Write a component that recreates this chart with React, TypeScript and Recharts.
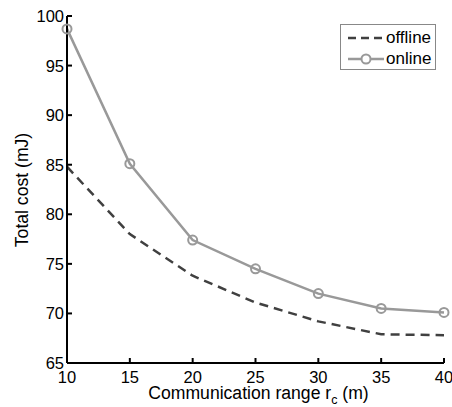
import React from "react";
import { LineChart, Line, XAxis, YAxis } from "recharts";

const ranges = [10, 15, 20, 25, 30, 35, 40];
const offlineCost = [84.8, 78.0, 73.8, 71.1, 69.2, 67.9, 67.8];
const onlineCost = [98.7, 85.1, 77.4, 74.5, 72.0, 70.5, 70.1];
const xTicks = [10, 15, 20, 25, 30, 35, 40];
const yTicks = [65, 70, 75, 80, 85, 90, 95, 100];
const seriesNames = ["offline", "online"];

const data = ranges.map((r, i) => ({ range: r, offline: offlineCost[i], online: onlineCost[i] }));

const FONT = "'Liberation Sans', Arial, Helvetica, sans-serif";
const FS = 16.5;
const LABEL_FS = 17.6;
const OFFLINE_COLOR = "#404040";
const ONLINE_COLOR = "#999999";

const BottomTick = (props: any) => {
  const { x, y, payload } = props;
  return (
    <g>
      <line x1={x} y1={y} x2={x} y2={y - 5} stroke="#000" strokeWidth={2} />
      <text x={x} y={y + 20} textAnchor="middle" fontSize={FS} fontFamily={FONT} fill="#000">
        {payload.value}
      </text>
    </g>
  );
};

const TopTick = (props: any) => {
  const { x, y } = props;
  return <line x1={x} y1={y} x2={x} y2={y + 5} stroke="#000" strokeWidth={2} />;
};

const LeftTick = (props: any) => {
  const { x, y, payload } = props;
  return (
    <g>
      <line x1={x} y1={y} x2={x + 5} y2={y} stroke="#000" strokeWidth={2} />
      <text x={x - 3} y={y + 6} textAnchor="end" fontSize={FS} fontFamily={FONT} fill="#000">
        {payload.value}
      </text>
    </g>
  );
};

const RightTick = (props: any) => {
  const { x, y } = props;
  return <line x1={x} y1={y} x2={x - 5} y2={y} stroke="#000" strokeWidth={2} />;
};

const XLabel = (props: any) => {
  const vb = props.viewBox || {};
  const cx = (vb.x ?? 67) + (vb.width ?? 377) / 2 + 3;
  return (
    <text x={cx} y={399} textAnchor="middle" fontSize={LABEL_FS} fontFamily={FONT} fill="#000">
      Communication range r
      <tspan dy={5} fontSize={12.5}>c</tspan>
      <tspan dy={-5}> (m)</tspan>
    </text>
  );
};

const YLabel = () => (
  <text
    x={22}
    y={190}
    transform="rotate(-90 22 190)"
    textAnchor="middle"
    dominantBaseline="central"
    fontSize={LABEL_FS}
    fontFamily={FONT}
    fill="#000"
  >
    Total cost (mJ)
  </text>
);

function LegendBox() {
  return (
    <div
      style={{
        position: "absolute",
        left: 340,
        top: 24,
        width: 94,
        height: 44,
        border: "1px solid #888",
        background: "#fff",
        fontFamily: FONT,
        fontSize: 17,
      }}
    >
      {seriesNames.map((name, i) => (
        <div key={name} style={{ position: "absolute", left: 0, top: i === 0 ? 2 : 23, height: 22, width: 94 }}>
          <svg width={44} height={22} style={{ position: "absolute", left: 4, top: 0 }}>
            {i === 0 ? (
              <line x1={3} y1={11} x2={39} y2={11} stroke={OFFLINE_COLOR} strokeWidth={2.5} strokeDasharray="8 5" />
            ) : (
              <g>
                <line x1={3} y1={11} x2={39} y2={11} stroke={ONLINE_COLOR} strokeWidth={2.5} />
                <circle cx={21} cy={11} r={4.5} fill="#fff" stroke={ONLINE_COLOR} strokeWidth={2} />
              </g>
            )}
          </svg>
          <span style={{ position: "absolute", left: 45, top: 1, lineHeight: "20px", color: "#000" }}>{name}</span>
        </div>
      ))}
    </div>
  );
}

export default function App() {
  return (
    <div style={{ position: "absolute", left: 0, top: 0, width: 452, height: 407, background: "#fff" }}>
      <LineChart width={452} height={407} data={data} margin={{ top: 16, right: 8, left: 0, bottom: 0 }}>
        <XAxis
          dataKey="range"
          type="number"
          domain={[10, 40]}
          ticks={xTicks}
          height={44}
          tickSize={0}
          tickMargin={0}
          tickLine={false}
          tick={<BottomTick />}
          axisLine={{ stroke: "#000", strokeWidth: 2 }}
          interval={0}
          label={<XLabel />}
        />
        <XAxis
          xAxisId="top"
          orientation="top"
          dataKey="range"
          type="number"
          domain={[10, 40]}
          ticks={xTicks}
          height={0}
          tickSize={0}
          tickMargin={0}
          tickLine={false}
          tick={<TopTick />}
          axisLine={{ stroke: "#000", strokeWidth: 2 }}
          interval={0}
        />
        <YAxis
          type="number"
          domain={[65, 100]}
          ticks={yTicks}
          width={67}
          tickSize={0}
          tickMargin={0}
          tickLine={false}
          tick={<LeftTick />}
          axisLine={{ stroke: "#000", strokeWidth: 2 }}
          interval={0}
          label={<YLabel />}
        />
        <YAxis
          yAxisId="right"
          orientation="right"
          type="number"
          domain={[65, 100]}
          ticks={yTicks}
          width={0}
          tickSize={0}
          tickMargin={0}
          tickLine={false}
          tick={<RightTick />}
          axisLine={{ stroke: "#000", strokeWidth: 2 }}
          interval={0}
        />
        <Line
          dataKey="offline"
          stroke={OFFLINE_COLOR}
          strokeWidth={2.5}
          strokeDasharray="9 6"
          dot={false}
          activeDot={false}
          isAnimationActive={false}
        />
        <Line
          dataKey="online"
          stroke={ONLINE_COLOR}
          strokeWidth={2.5}
          dot={{ r: 4.5, fill: "none", stroke: ONLINE_COLOR, strokeWidth: 2 }}
          activeDot={false}
          isAnimationActive={false}
        />
      </LineChart>
      <LegendBox />
    </div>
  );
}
